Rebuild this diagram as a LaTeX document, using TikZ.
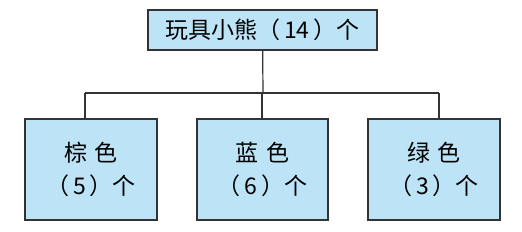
\documentclass[tikz,border=0pt]{standalone}
\usepackage{fontspec}
\usepackage{xcolor}
\newfontfamily\cjk{Noto Sans CJK SC}
\usetikzlibrary{positioning}
\definecolor{boxfill}{HTML}{BDE3F7}
\definecolor{boxline}{HTML}{333333}

\begin{document}
\begin{tikzpicture}[x=1pt,y=-1pt,every node/.style={font=\cjk\fontsize{23}{33}\selectfont}]
   \tikzstyle{b}=[draw=boxline,fill=boxfill,line width=1.2pt,inner sep=0pt,align=center];
   \tikzstyle{l}=[draw=boxline,line width=1.2pt];
   \useasboundingbox (0,0) rectangle (522,231);
   \node[b,minimum width=229pt,minimum height=40pt] (top) at (262.5,30)
     {玩具小熊（\,14\,）个};
   \node[b,minimum width=132pt,minimum height=101pt] (brown) at (91,169.5)
     {棕\,\,色\\（\,5\,）个};
   \node[b,minimum width=131pt,minimum height=101pt] (blue)  at (262.5,169.5)
     {蓝\,\,色\\（\,6\,）个};
   \node[b,minimum width=132pt,minimum height=101pt] (green) at (434,169.5)
     {绿\,\,色\\（\,3\,）个};
   \coordinate (j)  at (263,93);
   \coordinate (d1) at (85,93);
   \coordinate (d2) at (262,93);
   \coordinate (d3) at (439,93);
   \draw[l] (top) -- (j);
   \draw[l] (d1) -- (d3);
   \draw[l] (d1) -- (d1 |- brown.north);
   \draw[l] (d2) -- (d2 |- blue.north);
   \draw[l] (d3) -- (d3 |- green.north);
\end{tikzpicture}
\end{document}
